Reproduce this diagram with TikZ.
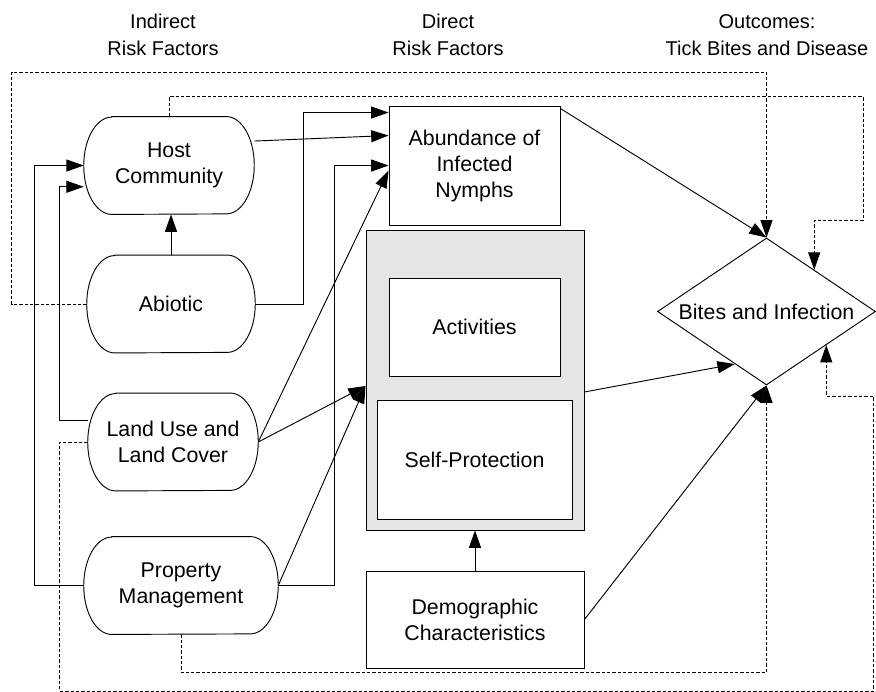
\documentclass[tikz,border=0pt]{standalone}
\usepackage{fontspec}
\setmainfont{Liberation Sans}
\usetikzlibrary{shapes.geometric, arrows.meta, calc}

\begin{document}
\begin{tikzpicture}[
        x=0.75pt, y=-0.75pt,
        font=\fontsize{16}{19.5}\selectfont,
        oval/.style={rectangle, align=center, inner sep=0pt, minimum height=73pt,
            append after command={\pgfextra{%
                \draw[line width=0.7pt] ([xshift=21pt]\tikzlastnode.north west) -- ([xshift=-21pt]\tikzlastnode.north east)
                    arc[start angle=90, end angle=-90, x radius=21pt, y radius=36.5pt]
                    -- ([xshift=21pt]\tikzlastnode.south west)
                    arc[start angle=270, end angle=90, x radius=21pt, y radius=36.5pt] -- cycle;}}},
        box/.style={rectangle, draw, line width=0.7pt, fill=white, align=center, inner sep=0pt},
        shaded/.style={rectangle, draw, line width=0.7pt, fill=black!10},
        outcome/.style={diamond, draw, line width=0.7pt, inner sep=0pt, shape aspect=1.48, minimum width=163.5pt, minimum height=110.25pt},
        header/.style={align=center, font=\fontsize{15}{20}\selectfont},
        arrow/.style={-{Triangle[length=13pt, width=9pt]}, line width=0.7pt},
        feedback/.style={arrow, dash pattern=on 2.5pt off 1.5pt}
    ]
    \useasboundingbox (0,0) rectangle (876,692);

    % Headers
    \node[header] (hindirect) at (163,35) {Indirect\\Risk Factors};
    \node[header] (hdirect) at (448,35) {Direct\\Risk Factors};
    \node[header] (houtcome) at (767,35) {Outcomes:\\Tick Bites and Disease};

    % Indirect risk factors
    \node[oval, minimum width=127.5pt] (host) at (169,165.5) {Host\\Community};
    \node[oval, minimum width=126pt] (abiotic) at (171,304) {Abiotic};
    \node[oval, minimum width=127.5pt] (landuse) at (173,442) {Land Use and\\Land Cover};
    \node[oval, minimum width=145.5pt] (property) at (181,585.5) {Property\\Management};

    % Direct risk factors
    \node[box, minimum width=128.25pt, minimum height=89.25pt] (nymphs) at (474.5,165.5) {Abundance of\\Infected\\Nymphs};
    \node[shaded, minimum width=163.5pt, minimum height=225pt] (behavior) at (475,380) {};
    \node[box, minimum width=128.25pt, minimum height=73.5pt] (activities) at (474.5,327) {Activities};
    \node[box, minimum width=146.25pt, minimum height=89.25pt] (selfprot) at (474.5,459.5) {Self-Protection};
    \node[box, minimum width=163.5pt, minimum height=72.75pt] (demog) at (475,619.5) {Demographic\\Characteristics};

    % Outcome
    \node[outcome] (bites) at (766.5,311.5) {Bites and Infection};

    % Arrows
    \draw[arrow] (abiotic.north) -- (abiotic.north |- host.south);
    \draw[arrow] (host.16) -- ($(nymphs.north west)!0.25!(nymphs.south west)$);
    \draw[arrow] (abiotic.east) -- ++(48,0) |- ($(nymphs.north west)+(0,7)$);
    \draw[arrow] (property.west) -- ++(-49,0) |- (host.west);
    \draw[arrow] (landuse.166) -- ++(-28,0) |- (host.194);
    \draw[arrow] (property.east) -- ++(56,0) |- ($(nymphs.north west)+(0,60)$);
    \draw[arrow] (landuse.east) -- ($(nymphs.north west)+(0,65)$);
    \draw[arrow] (landuse.east) -- ($(behavior.west)+(0,6)$);
    \draw[arrow] (property.east) -- ($(behavior.west)+(0,6)$);
    \draw[arrow] ($(nymphs.north east)+(0,3)$) -- (bites.north);
    \draw[arrow] ($(behavior.east)+(0,12)$) -- ($(bites.west)!0.71!(bites.south)$);
    \draw[arrow] (demog.east) -- (bites.south);
    \draw[arrow] (demog.north) -- (behavior.south);

    % Dashed feedback lines
    \draw[feedback] (abiotic.west) -- ++(-75,0) -- ++(0,-232) -| (bites.north);
    \draw[feedback] (host.north) -- ++(0,-20) -- ++(694,0) -- ++(0,124) -| ($(bites.north)!0.436!(bites.east)$);
    \draw[feedback] (property.south) -- ++(0,38) -| (bites.south);
    \draw[feedback] (landuse.west) -- ++(-28,0) -- ++(0,249) -- ++(814,0) -- ++(0,-295) -| ($(bites.south)!0.546!(bites.east)$);

\end{tikzpicture}
\end{document}
